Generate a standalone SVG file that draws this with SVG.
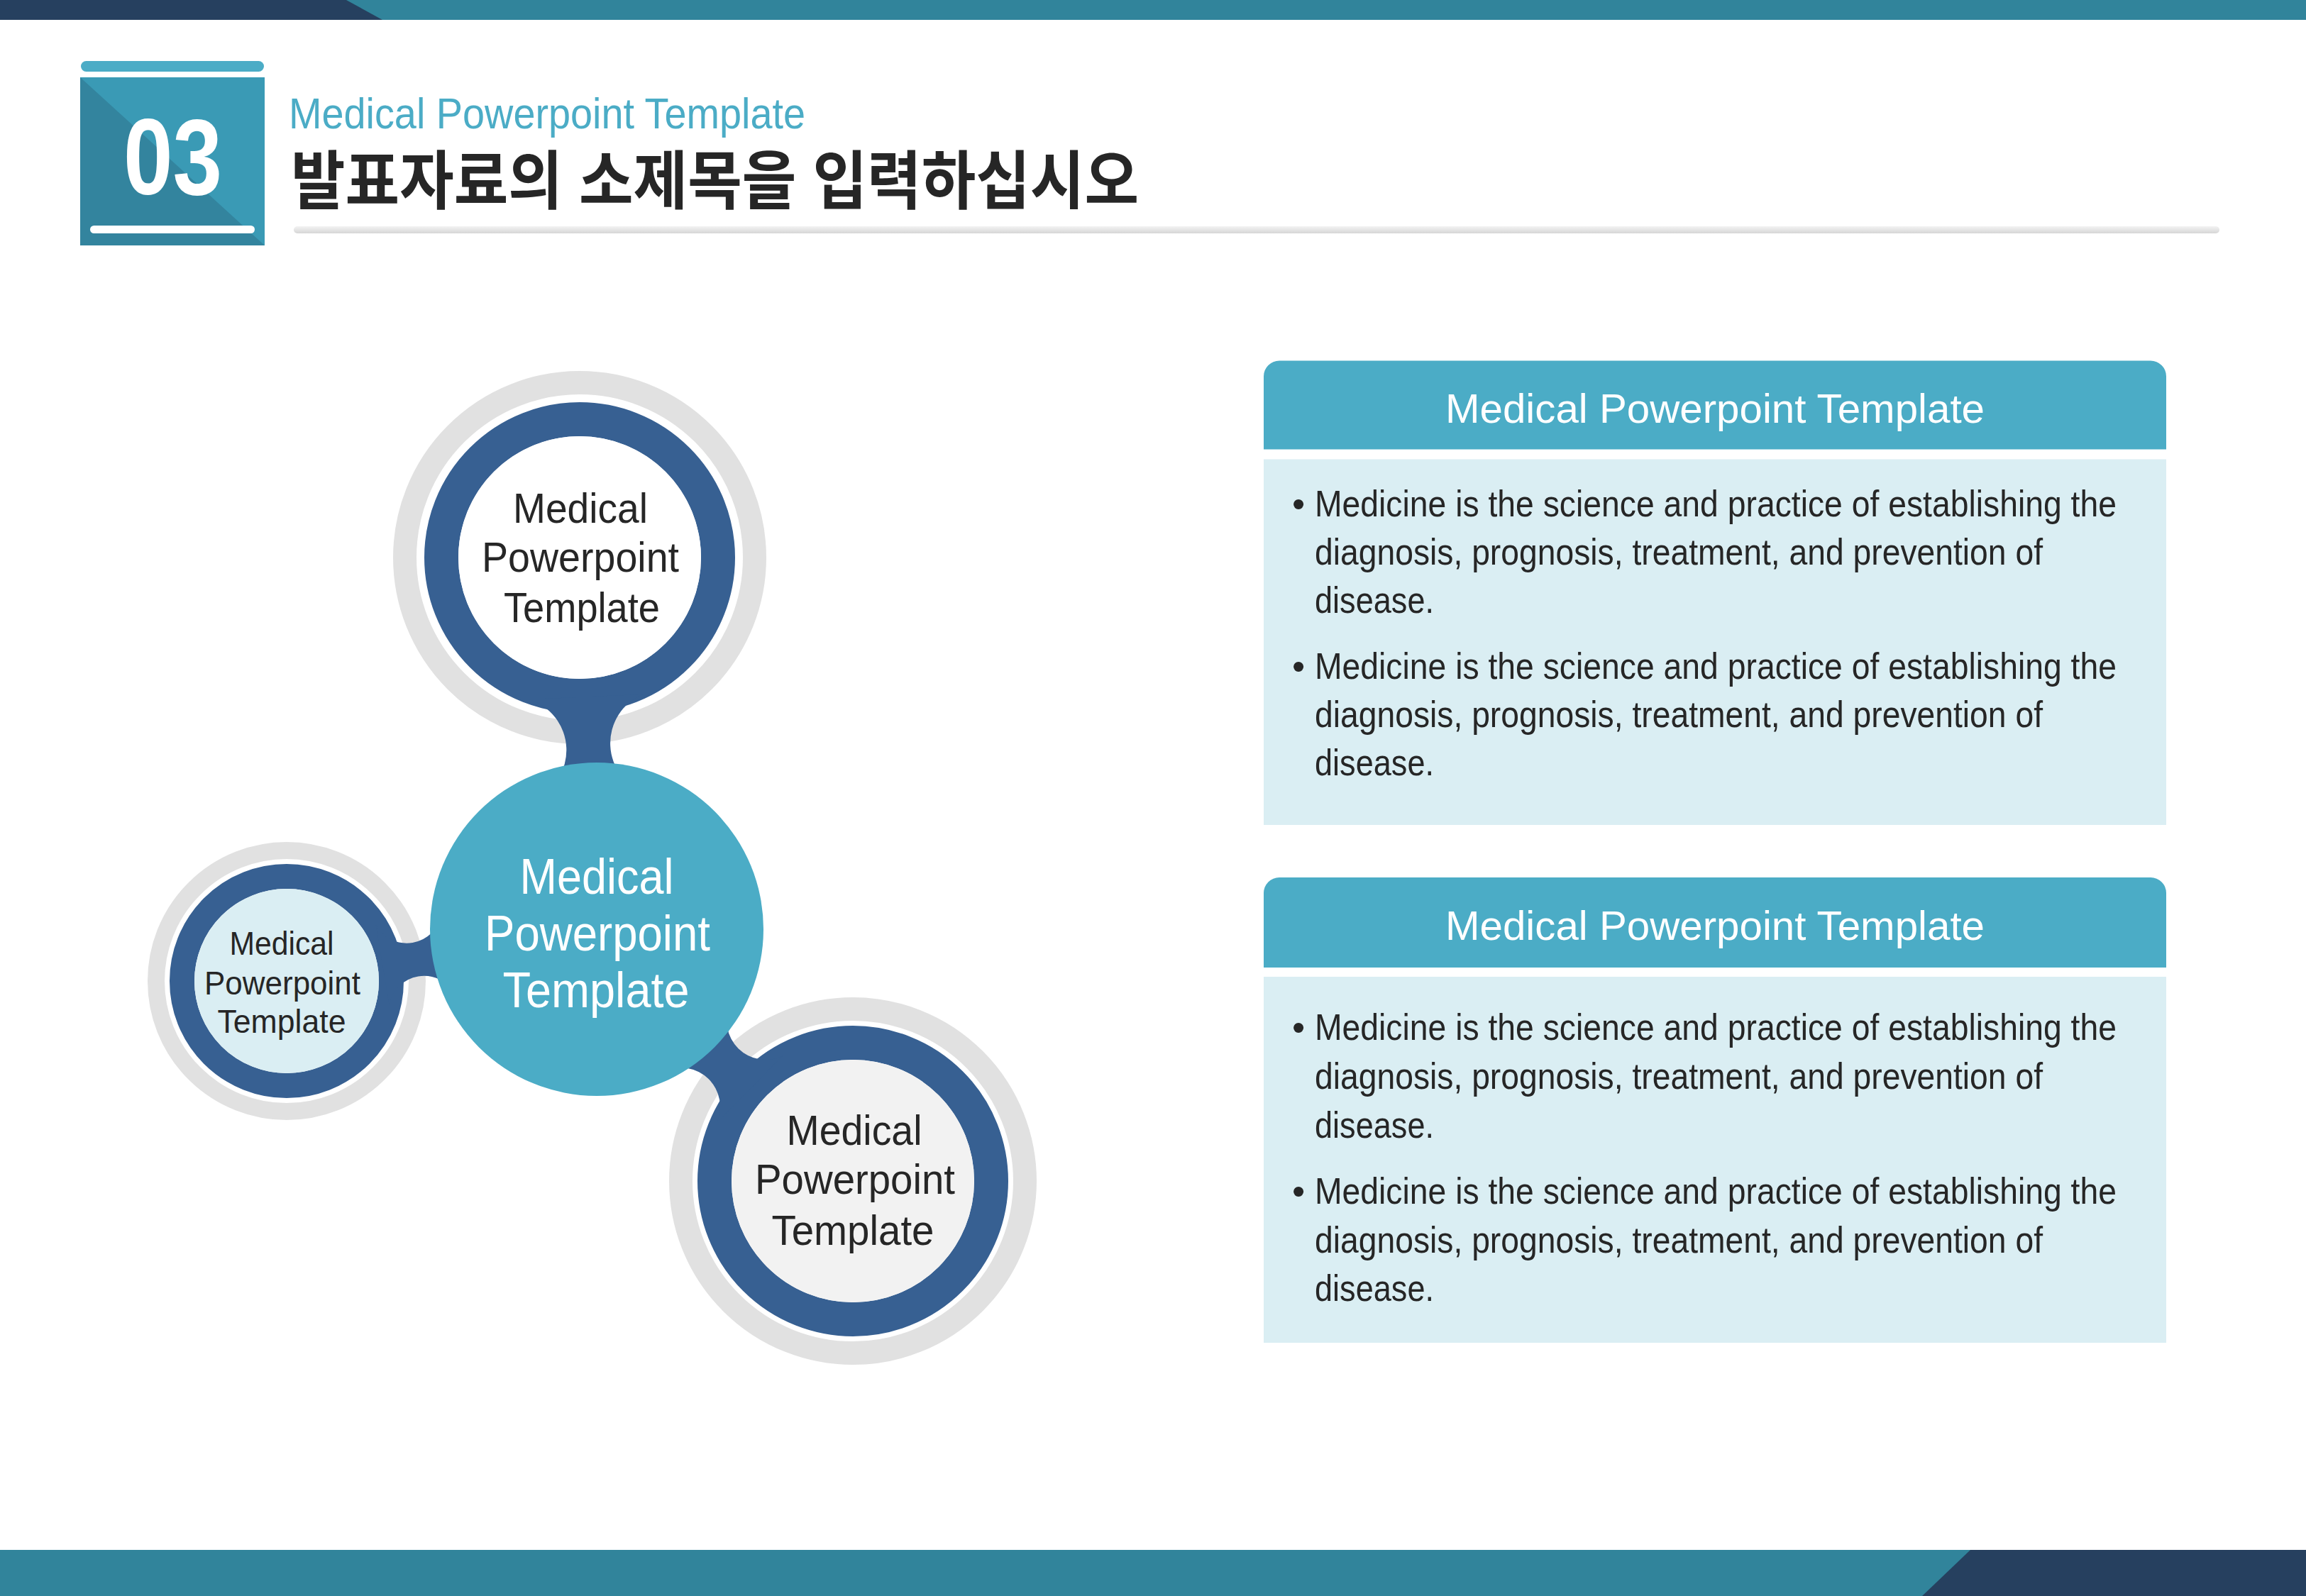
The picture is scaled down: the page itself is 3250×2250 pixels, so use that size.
<svg xmlns="http://www.w3.org/2000/svg" width="3250" height="2250" viewBox="0 0 3250 2250">
  <defs>
    <linearGradient id="lineGrad" x1="0" y1="0" x2="0" y2="1">
      <stop offset="0" stop-color="#F3F3F3"/>
      <stop offset="1" stop-color="#D6D6D6"/>
    </linearGradient>
    <style>
      text { font-family: "Liberation Sans", "Noto Sans CJK KR", sans-serif; }
      .dark { fill: #262626; }
      .white { fill: #FFFFFF; }
      .gray-ring { fill: none; stroke: #E1E1E1; }
      .blue-ring { fill: none; stroke: #376092; }
      .neck { fill: #376092; }
      .hdr { fill: #4BACC6; }
      .body { fill: #DAEEF3; }
      .ctext { text-anchor: middle; }
      .ptext { font-size: 52px; fill: #262626; }
      .htext { font-size: 58px; fill: #FFFFFF; text-anchor: middle; }
    </style>
  </defs>

  <rect x="0" y="0" width="3250" height="2250" fill="#FFFFFF"/>

  <!-- top and bottom bars -->
  <g id="top-bar">
    <rect x="0" y="0" width="3250" height="28" fill="#31849B"/>
    <polygon points="0,0 488,0 539,28 0,28" fill="#26405F"/>
  </g>
  <g id="bottom-bar">
    <rect x="0" y="2185" width="3250" height="65" fill="#31849B"/>
    <polygon points="2777,2185 3250,2185 3250,2250 2709,2250" fill="#26405F"/>
  </g>

  <!-- header badge -->
  <g id="badge">
    <rect x="114" y="86" width="258" height="15" rx="7.5" fill="#4BACC6"/>
    <rect x="113" y="109" width="260" height="237" fill="#3A9AB5"/>
    <polygon points="113,109 373,346 113,346" fill="#33849E"/>
    <rect x="127" y="318" width="232" height="11" rx="5.5" fill="#FFFFFF"/>
    <text x="243.5" y="274" font-size="152" font-weight="bold" class="white" text-anchor="middle" textLength="139" lengthAdjust="spacingAndGlyphs">03</text>
  </g>

  <g id="title">
    <text x="407" y="181" font-size="61" fill="#4BACC6" textLength="728" lengthAdjust="spacingAndGlyphs">Medical Powerpoint Template</text>
    <text x="410" y="287" font-size="90" font-weight="bold" class="dark" textLength="1195" lengthAdjust="spacingAndGlyphs">발표자료의 소제목을 입력하십시오</text>
    <rect x="414" y="319" width="2714" height="10" rx="5" fill="url(#lineGrad)"/>
  </g>

  <!-- satellite nodes -->
  <g id="node-top">
    <circle cx="817" cy="786" r="246.5" class="gray-ring" stroke-width="33"/>
    <circle cx="817" cy="786" r="195" class="blue-ring" stroke-width="48"/>
    <circle cx="817" cy="786" r="171" fill="#FFFFFF"/>
    <g class="ctext dark" font-size="60">
      <text x="818" y="737" textLength="190" lengthAdjust="spacingAndGlyphs">Medical</text>
      <text x="818" y="806" textLength="278" lengthAdjust="spacingAndGlyphs">Powerpoint</text>
      <text x="820" y="877" textLength="220" lengthAdjust="spacingAndGlyphs">Template</text>
    </g>
  </g>

  <g id="node-left">
    <circle cx="404" cy="1383" r="184" class="gray-ring" stroke-width="24"/>
    <circle cx="404" cy="1383" r="147.5" class="blue-ring" stroke-width="35"/>
    <circle cx="404" cy="1383" r="130" fill="#DAEEF3"/>
    <g class="ctext dark" font-size="46">
      <text x="397" y="1346" textLength="147" lengthAdjust="spacingAndGlyphs">Medical</text>
      <text x="398" y="1402" textLength="220" lengthAdjust="spacingAndGlyphs">Powerpoint</text>
      <text x="397" y="1456" textLength="181" lengthAdjust="spacingAndGlyphs">Template</text>
    </g>
  </g>

  <g id="node-bottom">
    <circle cx="1202" cy="1665" r="242.5" class="gray-ring" stroke-width="33"/>
    <circle cx="1202" cy="1665" r="195" class="blue-ring" stroke-width="48"/>
    <circle cx="1202" cy="1665" r="171" fill="#F2F2F2"/>
    <g class="ctext dark" font-size="60">
      <text x="1204" y="1614" textLength="191" lengthAdjust="spacingAndGlyphs">Medical</text>
      <text x="1205" y="1683" textLength="282" lengthAdjust="spacingAndGlyphs">Powerpoint</text>
      <text x="1202" y="1755" textLength="229" lengthAdjust="spacingAndGlyphs">Template</text>
    </g>
  </g>

  <!-- connectors (necks) -->
  <g id="connectors">
    <path class="neck" transform="translate(817,786) rotate(87.38)" d="M 196.52,-80.35 A 75 75 0 0 0 337.48,-80.35 L 337.48,80.35 A 75 75 0 0 0 196.52,80.35 Z"/>
    <path class="neck" transform="translate(404,1383) rotate(-9.48)" d="M 137.02,-56.9 A 50 50 0 0 0 230.98,-56.9 L 230.98,56.9 A 50 50 0 0 0 137.02,56.9 Z"/>
    <path class="neck" transform="translate(1202,1665) rotate(-135.48)" d="M 194.32,-76.19 A 55 55 0 0 0 297.68,-76.19 L 297.68,56.19 A 55 55 0 0 0 194.32,56.19 Z"/>
  </g>

  <!-- center node -->
  <g id="node-center">
    <circle cx="841" cy="1310" r="235" fill="#4BACC6"/>
    <g class="ctext white" font-size="70">
      <text x="841" y="1260" textLength="217" lengthAdjust="spacingAndGlyphs">Medical</text>
      <text x="842" y="1340" textLength="318" lengthAdjust="spacingAndGlyphs">Powerpoint</text>
      <text x="840" y="1420" textLength="263" lengthAdjust="spacingAndGlyphs">Template</text>
    </g>
  </g>

  <!-- panel 1 -->
  <g id="panel-1">
    <path class="hdr" d="M 1781,633.5 V 530.5 A 22 22 0 0 1 1803,508.5 H 3031 A 22 22 0 0 1 3053,530.5 V 633.5 Z"/>
    <rect class="body" x="1781" y="647.5" width="1272" height="515.5"/>
    <text class="htext" x="2417" y="595.5" textLength="760" lengthAdjust="spacingAndGlyphs">Medical Powerpoint Template</text>
    <g class="ptext">
      <text x="1821" y="727.5">•</text>
      <text x="1853" y="727.5" textLength="1130" lengthAdjust="spacingAndGlyphs">Medicine is the science and practice of establishing the</text>
      <text x="1853" y="796" textLength="1026" lengthAdjust="spacingAndGlyphs">diagnosis, prognosis, treatment, and prevention of</text>
      <text x="1853" y="864" textLength="168" lengthAdjust="spacingAndGlyphs">disease.</text>
      <text x="1821" y="956.5">•</text>
      <text x="1853" y="956.5" textLength="1130" lengthAdjust="spacingAndGlyphs">Medicine is the science and practice of establishing the</text>
      <text x="1853" y="1025" textLength="1026" lengthAdjust="spacingAndGlyphs">diagnosis, prognosis, treatment, and prevention of</text>
      <text x="1853" y="1093" textLength="168" lengthAdjust="spacingAndGlyphs">disease.</text>
    </g>
  </g>

  <!-- panel 2 -->
  <g id="panel-2">
    <path class="hdr" d="M 1781,1364 V 1259 A 22 22 0 0 1 1803,1237 H 3031 A 22 22 0 0 1 3053,1259 V 1364 Z"/>
    <rect class="body" x="1781" y="1377" width="1272" height="516"/>
    <text class="htext" x="2417" y="1325" textLength="760" lengthAdjust="spacingAndGlyphs">Medical Powerpoint Template</text>
    <g class="ptext">
      <text x="1821" y="1465.5">•</text>
      <text x="1853" y="1465.5" textLength="1130" lengthAdjust="spacingAndGlyphs">Medicine is the science and practice of establishing the</text>
      <text x="1853" y="1535" textLength="1026" lengthAdjust="spacingAndGlyphs">diagnosis, prognosis, treatment, and prevention of</text>
      <text x="1853" y="1604" textLength="168" lengthAdjust="spacingAndGlyphs">disease.</text>
      <text x="1821" y="1697">•</text>
      <text x="1853" y="1697" textLength="1130" lengthAdjust="spacingAndGlyphs">Medicine is the science and practice of establishing the</text>
      <text x="1853" y="1765.5" textLength="1026" lengthAdjust="spacingAndGlyphs">diagnosis, prognosis, treatment, and prevention of</text>
      <text x="1853" y="1834" textLength="168" lengthAdjust="spacingAndGlyphs">disease.</text>
    </g>
  </g>
</svg>
